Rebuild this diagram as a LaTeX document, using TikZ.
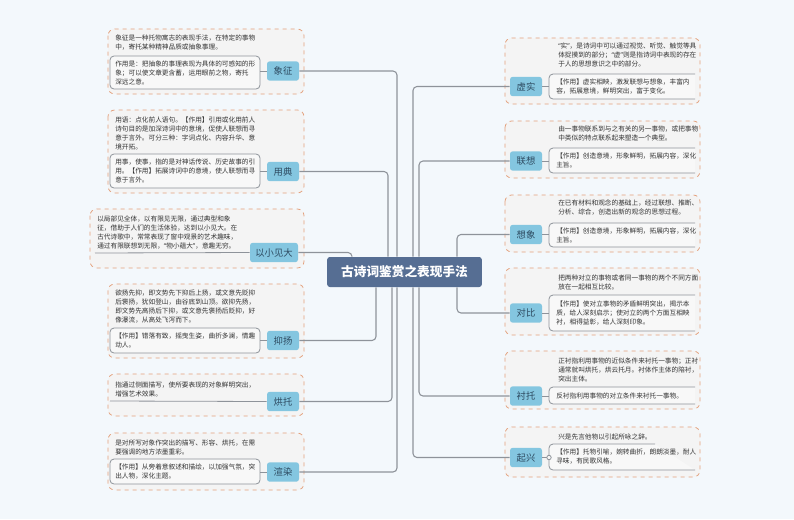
\documentclass[tikz,border=0pt]{standalone}
\usepackage{fontspec}
\newfontfamily\cjk{Noto Sans CJK SC}
\newfontfamily\lat{Noto Sans}
\newcommand{\oq}{{\lat “}}
\newcommand{\cq}{{\lat ”}}
\definecolor{bg}{HTML}{F3F8FC}
\definecolor{og}{HTML}{E3A07C}
\definecolor{gfill}{HTML}{F4F4F4}
\definecolor{ifill}{HTML}{F8F8F8}
\definecolor{lbl}{HTML}{84C6E0}
\definecolor{lbltxt}{HTML}{2D4A60}
\definecolor{cen}{HTML}{566E93}
\definecolor{ln}{HTML}{8E939A}
\definecolor{tx}{HTML}{333333}
\tikzset{
  grp/.style={draw=og,dashed,fill=gfill,rounded corners=5pt,line width=0.6pt},
  inbox/.style={draw=ln,fill=ifill,rounded corners=3pt,line width=0.6pt},
  txt/.style={inner sep=0pt,align=left,text=tx,font=\cjk\fontsize{5}{6.75}\selectfont},
  lab/.style={fill=lbl,rounded corners=2pt,text=lbltxt,font=\cjk\fontsize{7}{8}\selectfont,inner sep=0pt,minimum height=14.5pt},
  conn/.style={draw=ln,line width=0.8pt,rounded corners=3pt},
  sub/.style={draw=ln,line width=0.6pt}
}
\begin{document}
\begin{tikzpicture}[x=0.75pt,y=-0.75pt]
\fill[bg] (0,0) rectangle (794,519);
\useasboundingbox (0,0) rectangle (794,519);
% ===== left groups =====
\draw[grp] (108,29) rectangle (304,94);
\node[txt,anchor=north west] at (115,35) {象征是一种托物寓志的表现手法，在特定的事物\\中，寄托某种精神品质或抽象事理。};
\draw[inbox] (110,56) rectangle (260,89);
\node[txt,anchor=west] (i1) at (115,72.5) {作用是：把抽象的事理表现为具体的可感知的形\\象；可以使文章更含蓄，运用眼前之物，寄托\\深远之意。};
\node[lab,minimum width=24pt] (L1) at (283,71) {象征};
\draw[sub] (260,71) -- (L1.west);
\draw[grp] (108,110) rectangle (304,193);
\node[txt,anchor=north west] at (115,117) {用语：点化前人语句。【作用】引用或化用前人\\诗句目的是加深诗词中的意境，促使人联想而寻\\意于言外。可分三种：字词点化、内容升华、意\\境开拓。};
\draw[inbox] (110,154) rectangle (260,188);
\node[txt,anchor=west] at (115,171) {用事，使事，指的是对神话传说、历史故事的引\\用。【作用】拓展诗词中的意境，使人联想而寻\\意于言外。};
\node[lab,minimum width=24pt] (L2) at (283,171.5) {用典};
\draw[sub] (260,171.5) -- (L2.west);
\draw[grp] (90,209) rectangle (304,268);
\node[txt,anchor=north west] at (97,216) {以局部见全体，以有限见无限，通过典型和象\\征，借助于人们的生活体验，达到以小见大。在\\古代诗歌中，常常表现了窗中观景的艺术趣味，\\通过有限联想到无限，\oq 物小蕴大\cq ，意趣无穷。};
\node[lab,minimum width=36pt] (L3) at (274,252.5) {以小见大};
\draw[sub] (95,253) -- (L3.west);
\draw[grp] (108,284) rectangle (304,358);
\node[txt,anchor=north west] at (115,290) {欲扬先抑，即文势先下抑后上扬，或文意先贬抑\\后褒扬，犹如登山，由谷底到山顶。欲抑先扬，\\即文势先高扬后下抑，或文意先褒扬后贬抑，好\\像瀑流，从高处飞泻而下。};
\draw[inbox] (110,328) rectangle (260,353);
\node[txt,anchor=west] at (115,340.5) {【作用】错落有致，摇曳生姿，曲折多澜，情趣\\动人。};
\node[lab,minimum width=24pt] (L4) at (283,340.5) {抑扬};
\draw[sub] (260,340.5) -- (L4.west);
\draw[grp] (108,374) rectangle (304,416);
\node[txt,anchor=north west] at (115,382) {指通过侧面描写，使所要表现的对象鲜明突出，\\增强艺术效果。};
\node[lab,minimum width=24pt] (L5) at (283,401.5) {烘托};
\draw[sub] (110,401) -- (L5.west);
\draw[grp] (108,433) rectangle (304,490);
\node[txt,anchor=north west] at (115,440) {是对所写对象作突出的描写、形容、烘托，在需\\要强调的地方浓墨重彩。};
\draw[inbox] (110,459) rectangle (260,484);
\node[txt,anchor=west] at (115,471.5) {【作用】从旁着意叙述和描绘，以加强气氛，突\\出人物，深化主题。};
\node[lab,minimum width=24pt] (L6) at (283,472) {渲染};
\draw[sub] (260,472) -- (L6.west);
% ===== right groups =====
\draw[grp] (505,38) rectangle (700,104);
\node[txt,anchor=north west] at (558,43) {\oq 实\cq ，是诗词中可以通过视觉、听觉、触觉等具\\体捉摸到的部分；\oq 虚\cq 则是指诗词中表现的存在\\于人的思想意识之中的部分。};
\draw[sub,fill=ifill,rounded corners=3pt] (695,74) -- (549,74) -- (549,99) -- (695,99);
\node[txt,anchor=west] at (556,86.5) {【作用】虚实相映，激发联想与想象，丰富内\\容，拓展意境，鲜明突出，富于变化。};
\node[lab,minimum width=24pt] (R1) at (526,86.5) {虚实};
\draw[sub] (R1.east) -- (549,86.5);
\draw[grp] (505,121) rectangle (700,178);
\node[txt,anchor=north west] at (558,126) {由一事物联系到与之有关的另一事物，或把事物\\中类似的特点联系起来塑造一个典型。};
\draw[sub,fill=ifill,rounded corners=3pt] (695,148) -- (549,148) -- (549,173) -- (695,173);
\node[txt,anchor=west] at (556,160.5) {【作用】创造意境，形象鲜明，拓展内容，深化\\主旨。};
\node[lab,minimum width=24pt] (R2) at (526,161) {联想};
\draw[sub] (R2.east) -- (549,161);
\draw[grp] (505,195) rectangle (700,252);
\node[txt,anchor=north west] at (558,200) {在已有材料和观念的基础上，经过联想、推断、\\分析、综合，创造出新的观念的思想过程。};
\draw[sub,fill=ifill,rounded corners=3pt] (695,223) -- (549,223) -- (549,247) -- (695,247);
\node[txt,anchor=west] at (556,235) {【作用】创造意境，形象鲜明，拓展内容，深化\\主旨。};
\node[lab,minimum width=24pt] (R3) at (526,234.5) {想象};
\draw[sub] (R3.east) -- (549,234.5);
\draw[grp] (505,268) rectangle (700,335);
\node[txt,anchor=north west] at (558,275) {把两种对立的事物或者同一事物的两个不同方面\\放在一起相互比较。};
\draw[sub,fill=ifill,rounded corners=3pt] (695,295) -- (549,295) -- (549,331) -- (695,331);
\node[txt,anchor=west] at (556,313) {【作用】使对立事物的矛盾鲜明突出，揭示本\\质，给人深刻启示；使对立的两个方面互相映\\衬，相得益彰，给人深刻印象。};
\node[lab,minimum width=24pt] (R4) at (526,313) {对比};
\draw[sub] (R4.east) -- (549,313);
\draw[grp] (505,351) rectangle (700,409);
\node[txt,anchor=north west] at (558,358) {正衬指利用事物的近似条件来衬托一事物；正衬\\通常就叫烘托，烘云托月。衬体作主体的陪衬，\\突出主体。};
\draw[sub,fill=ifill,rounded corners=3pt] (695,387) -- (549,387) -- (549,404) -- (695,404);
\node[txt,anchor=west] at (556,395.5) {反衬指利用事物的对立条件来衬托一事物。};
\node[lab,minimum width=24pt] (R5) at (526,396) {衬托};
\draw[sub] (R5.east) -- (549,396);
\draw[grp] (505,427) rectangle (700,477);
\node[txt,anchor=north west] at (558,434) {兴是先言他物以引起所咏之辞。};
\draw[sub,fill=ifill,rounded corners=3pt] (655,444) -- (549,444) -- (549,470) -- (695,470);
\node[txt,anchor=west] at (556,457) {【作用】托物引喻，婉转曲折，朗朗淡墨，耐人\\寻味，有民歌风格。};
\node[lab,minimum width=24pt] (R6) at (526,457.5) {起兴};
\draw[sub] (R6.east) -- (549,457.5);
\draw[sub,fill=ifill] (549,457.5) circle (2.2);
% ===== center =====
\node[fill=cen,rounded corners=2pt,minimum width=116pt,minimum height=22.5pt,text=white,font=\cjk\bfseries\fontsize{9.5}{11}\selectfont,inner sep=0pt] (C) at (404.5,272) {古诗词鉴赏之表现手法};
\coordinate (a1) at (397,0); \coordinate (a2) at (388,0); \coordinate (a3) at (352,0);
\coordinate (a4) at (376,0); \coordinate (a5) at (392,0); \coordinate (a6) at (397,0);
\coordinate (b1) at (413,0); \coordinate (b2) at (419,0); \coordinate (b3) at (457,0);
\coordinate (b4) at (457,0); \coordinate (b5) at (419,0); \coordinate (b6) at (413,0);
\draw[conn] (C.north -| a1) |- (L1.east);
\draw[conn] (C.north -| a2) |- (L2.east);
\draw[conn] (C.north -| a3) |- (L3.east);
\draw[conn] (C.south -| a4) |- (L4.east);
\draw[conn] (C.south -| a5) |- (L5.east);
\draw[conn] (C.south -| a6) |- (L6.east);
\draw[conn] (C.north -| b1) |- (R1.west);
\draw[conn] (C.north -| b2) |- (R2.west);
\draw[conn] (C.north -| b3) |- (R3.west);
\draw[conn] (C.south -| b4) |- (R4.west);
\draw[conn] (C.south -| b5) |- (R5.west);
\draw[conn] (C.south -| b6) |- (R6.west);
\end{tikzpicture}
\end{document}
